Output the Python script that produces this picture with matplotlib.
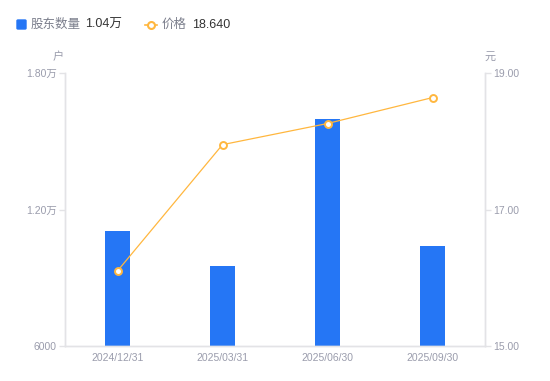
import matplotlib
matplotlib.use("Agg")
import matplotlib.pyplot as plt
from matplotlib.lines import Line2D
from matplotlib.patches import FancyBboxPatch

plt.rcParams['font.family'] = ['Liberation Sans', 'Noto Sans CJK SC', 'DejaVu Sans']

categories = ["2024/12/31", "2025/03/31", "2025/06/30", "2025/09/30"]
holders = [11050, 9530, 15960, 10400]
prices = [16.10, 17.95, 18.26, 18.64]
left_ticks = [6000, 12000, 18000]
left_labels = ["6000", "1.20万", "1.80万"]
right_ticks = [15.0, 17.0, 19.0]
right_labels = ["15.00", "17.00", "19.00"]

W, H = 550, 381
fig = plt.figure(figsize=(W/100, H/100), dpi=100)
ax = fig.add_axes([65/W, (H-346)/H, 420/W, 273/H])
ax2 = ax.twinx()

bar_c = "#2576F5"
line_c = "#FFB73F"
tick_c = "#9A9CAC"
axis_c = "#E3E3E6"

x = range(len(categories))
ax.bar(x, holders, width=0.24, color=bar_c, zorder=2)
ax.set_xlim(-0.5, 3.5)
ax.set_ylim(6000, 18000)
ax.set_yticks(left_ticks)
ax.set_yticklabels(left_labels)
ax.set_xticks(list(x))
ax.set_xticklabels(categories)

ax2.plot(list(x), prices, color=line_c, lw=0.9, marker='o', ms=5,
         mfc='white', mec=line_c, mew=1.4, zorder=3)
ax2.set_ylim(15, 19)
ax2.set_yticks(right_ticks)
ax2.set_yticklabels(right_labels)

for a in (ax, ax2):
    for s in a.spines.values():
        s.set_color(axis_c)
        s.set_linewidth(1)
    a.spines['top'].set_visible(False)
    a.tick_params(axis='y', colors=axis_c, labelcolor=tick_c, labelsize=7.5, length=4, width=1, pad=2)
ax.tick_params(axis='x', length=0, labelcolor=tick_c, labelsize=7.5, pad=5)
ax2.tick_params(axis='x', length=0)

fig.text(58/W, 1-57/H, "户", color=tick_c, fontsize=8, ha='center', va='center')
fig.text(490/W, 1-57/H, "元", color=tick_c, fontsize=8, ha='center', va='center')

# legend
fig.patches.append(FancyBboxPatch((17/W, 1-29/H), 9/W, 9/H, boxstyle="round,pad=0,rounding_size=0.002",
                                  transform=fig.transFigure, color=bar_c))
fig.text(31/W, 1-24.5/H, "股东数量", color="#7B7E8C", fontsize=9, va='center')
fig.text(85/W, 1-24.5/H, "1.04万", color="#333333", fontsize=9, va='center')
fig.add_artist(Line2D([145/W, 157/W], [1-24.5/H, 1-24.5/H], color=line_c, lw=1.2,
                      transform=fig.transFigure))
fig.add_artist(Line2D([151/W], [1-24.5/H], color=line_c, marker='o', ms=5, mfc='white',
                      mec=line_c, mew=1.5, transform=fig.transFigure))
fig.text(162/W, 1-24.5/H, "价格", color="#7B7E8C", fontsize=9, va='center')
fig.text(192/W, 1-24.5/H, "18.640", color="#333333", fontsize=9, va='center')

fig.savefig("out.png", dpi=100)
